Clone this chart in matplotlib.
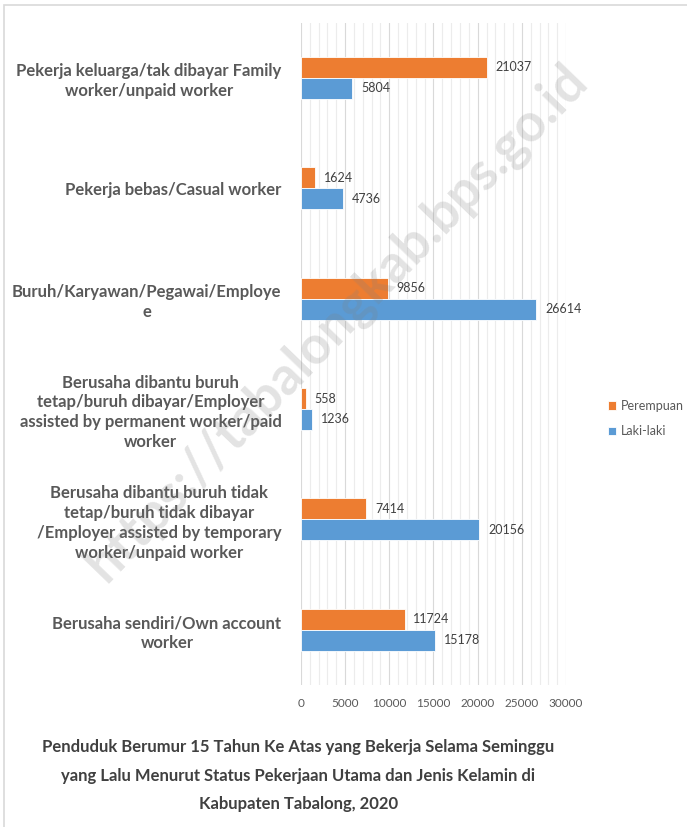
import matplotlib.pyplot as plt
from matplotlib.patches import Rectangle
from matplotlib.ticker import MultipleLocator
import numpy as np

plt.rcParams['font.family'] = ['Lato', 'DejaVu Sans']

categories = [
    'Berusaha sendiri/Own account\nworker',
    'Berusaha dibantu buruh tidak\ntetap/buruh tidak dibayar\n/Employer assisted by temporary\nworker/unpaid worker',
    'Berusaha dibantu buruh\ntetap/buruh dibayar/Employer\nassisted by permanent worker/paid\nworker',
    'Buruh/Karyawan/Pegawai/Employe\ne',
    'Pekerja bebas/Casual worker',
    'Pekerja keluarga/tak dibayar Family\nworker/unpaid worker',
]
perempuan = [11724, 7414, 558, 9856, 1624, 21037]
laki = [15178, 20156, 1236, 26614, 4736, 5804]

orange = '#ED7D31'
blue = '#5B9BD5'
txt = '#595959'

fig = plt.figure(figsize=(6.87, 8.27), dpi=100)
ax = fig.add_axes([0.438, 0.1717, 0.386, 0.801])

y = np.arange(len(categories))
h = 0.19
ax.barh(y + h / 2, perempuan, height=h, color=orange, edgecolor='white', linewidth=0.6, label='Perempuan', zorder=3)
ax.barh(y - h / 2, laki, height=h, color=blue, edgecolor='white', linewidth=0.6, label='Laki-laki', zorder=3)

for yi, v in zip(y, perempuan):
    ax.text(v + 1000, yi + h / 2, str(v), va='center', ha='left', fontsize=9, color='#404040')
for yi, v in zip(y, laki):
    ax.text(v + 1000, yi - h / 2, str(v), va='center', ha='left', fontsize=9, color='#404040')

ax.set_xlim(0, 30000)
ax.set_ylim(-0.5, len(categories) - 0.5)
ax.xaxis.set_major_locator(MultipleLocator(5000))
ax.xaxis.set_minor_locator(MultipleLocator(1000))
ax.grid(axis='x', which='major', color='#d9d9d9', linewidth=0.8, zorder=0)
ax.grid(axis='x', which='minor', color='#ececec', linewidth=0.8, zorder=0)
for s in ax.spines.values():
    s.set_visible(False)
ax.tick_params(axis='both', which='both', length=0)
ax.tick_params(axis='x', labelsize=8.5, labelcolor=txt, pad=9)
ax.set_yticks(y)
ax.set_yticklabels(categories, fontsize=12, fontweight='bold', color=txt, linespacing=1.3)
for lab in ax.get_yticklabels():
    lab.set_multialignment('center')
ax.tick_params(axis='y', pad=14)

leg = fig.legend(loc='center left', bbox_to_anchor=(0.868, 0.494), frameon=False,
                 fontsize=9, labelcolor=txt, handlelength=0.7, handleheight=0.7,
                 handletextpad=0.4, labelspacing=1.1)

title = ('Penduduk Berumur 15 Tahun Ke Atas yang Bekerja Selama Seminggu\n'
         'yang Lalu Menurut Status Pekerjaan Utama dan Jenis Kelamin di\n'
         'Kabupaten Tabalong, 2020')
fig.text(0.434, 0.062, title, ha='center', va='center', fontsize=12,
         fontweight='bold', color='#404040', linespacing=1.95)

fig.text(0.49, 0.61, 'https://tabalongkab.bps.go.id', rotation=46,
         ha='center', va='center', fontsize=38, fontweight='bold',
         color='#808080', alpha=0.22, zorder=10)

fig.patches.append(Rectangle((4 / 687, -0.1), 1.2, 1 - 5 / 827 + 0.1,
                             transform=fig.transFigure, fill=False,
                             edgecolor='#d9d9d9', linewidth=1.2))

fig.savefig('out.png', dpi=100)
